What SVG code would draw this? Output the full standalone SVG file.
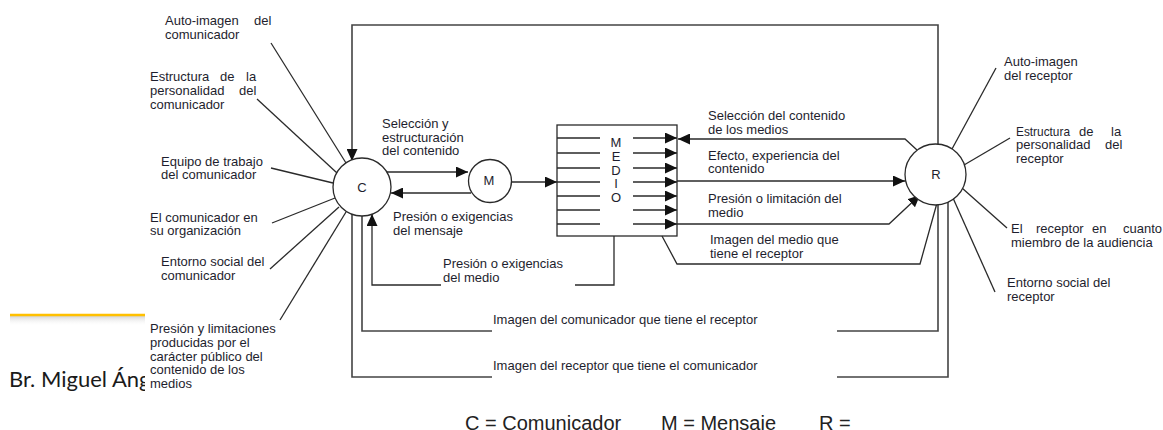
<svg xmlns="http://www.w3.org/2000/svg" width="1163" height="430" viewBox="0 0 1163 430">
  <style>
    .lbl { font-family: "Liberation Sans", Arial, sans-serif; font-size: 13px; fill: #1e1e2e; }
    .node-lbl { font-family: "Liberation Sans", Arial, sans-serif; font-size: 13px; fill: #1e1e2e; text-anchor: middle; }
    .legend { font-family: "Liberation Sans", Arial, sans-serif; font-size: 20px; fill: #222; }
    .ln { fill: none; stroke: #2a2a2a; stroke-width: 1.3; }
    .frame { fill: none; stroke: #444; stroke-width: 1.6; }
    .circ { fill: #fff; stroke: #2a2a2a; stroke-width: 1.3; }
  </style>
  <defs>
    <marker id="ah" markerUnits="userSpaceOnUse" markerWidth="12" markerHeight="11" refX="12" refY="5.5" orient="auto">
      <path d="M0,0 L12,5.5 L0,11 Z" fill="#111"/>
    </marker>
    <clipPath id="leftclip"><rect x="0" y="0" width="145" height="430"/></clipPath>
    <linearGradient id="shadow" x1="0" y1="0" x2="0" y2="1">
      <stop offset="0" stop-color="#d0d0d0" stop-opacity="0.9"/>
      <stop offset="1" stop-color="#ffffff" stop-opacity="0"/>
    </linearGradient>
  </defs>
  <rect width="1163" height="430" fill="#fff"/>

  <!-- slide background elements -->
  <g id="slide" clip-path="url(#leftclip)">
    <rect x="10" y="316" width="140" height="10" fill="url(#shadow)"/>
    <line x1="10" y1="315" x2="150" y2="315" stroke="#FFC000" stroke-width="2.5"/>
    <text x="9" y="387" font-family="Lato, 'Open Sans', sans-serif" font-size="22" fill="#1a1a1a">Br. Miguel Áng</text>
  </g>

  <!-- connectors -->
  <g id="connectors">
    <!-- top feedback frame -->
    <path class="frame" d="M938,145 V25 H352 V161" marker-end="url(#ah)"/>
    <!-- C to M and back -->
    <path class="ln" d="M387,172 H468" marker-end="url(#ah)"/>
    <path class="ln" d="M471,193 H391" marker-end="url(#ah)"/>
    <!-- M to medio -->
    <path class="ln" d="M512,182 H557" marker-end="url(#ah)"/>
    <!-- inner medio lines -->
    <path class="ln" d="M557,138 H600 M557,153 H600 M557,168 H600 M557,182 H600 M557,196 H600 M557,210 H600 M557,224 H600"/>
    <path class="ln" d="M633,138 H677" marker-end="url(#ah)"/>
    <path class="ln" d="M633,153 H677" marker-end="url(#ah)"/>
    <path class="ln" d="M633,168 H677" marker-end="url(#ah)"/>
    <path class="ln" d="M633,182 H677" marker-end="url(#ah)"/>
    <path class="ln" d="M633,196 H677" marker-end="url(#ah)"/>
    <path class="ln" d="M633,210 H677" marker-end="url(#ah)"/>
    <path class="ln" d="M633,224 H677" marker-end="url(#ah)"/>
    <!-- R to medio / medio to R -->
    <path class="ln" d="M917,150 L905,139 H678" marker-end="url(#ah)"/>
    <path class="ln" d="M677,181 H905" marker-end="url(#ah)"/>
    <path class="ln" d="M677,224 H889 L920,195" marker-end="url(#ah)"/>
    <path class="ln" d="M662,236 L677,264 H920 L937,203"/>
    <!-- presion o exigencias del medio -->
    <path class="ln" d="M614,236 V285 H575"/>
    <path class="ln" d="M441,285 H372 V214" marker-end="url(#ah)"/>
    <!-- imagen del comunicador que tiene el receptor -->
    <path class="frame" d="M938,204 V331 H837"/>
    <path class="frame" d="M492,331 H362 V216"/>
    <!-- imagen del receptor que tiene el comunicador -->
    <path class="frame" d="M948,202 V377 H837"/>
    <path class="frame" d="M492,377 H352 V214"/>
    <!-- influences on C -->
    <path class="ln" d="M271,43 L346,163"/>
    <path class="ln" d="M257,99 L337,173"/>
    <path class="ln" d="M271,168 L333,183"/>
    <path class="ln" d="M272,223 L335,198"/>
    <path class="ln" d="M270,269 L339,207"/>
    <path class="ln" d="M280,320 L346,212"/>
    <!-- influences on R -->
    <path class="ln" d="M996,68 L952,149"/>
    <path class="ln" d="M1010,138 L964,165"/>
    <path class="ln" d="M1007,228 L962,188"/>
    <path class="ln" d="M995,292 L953,198"/>
  </g>

  <!-- nodes -->
  <g id="node-C">
    <circle class="circ" cx="362" cy="187" r="29"/>
    <text class="node-lbl" x="362" y="192">C</text>
  </g>
  <g id="node-M">
    <circle class="circ" cx="490" cy="181" r="21.5"/>
    <text class="node-lbl" x="489" y="185">M</text>
  </g>
  <g id="node-R">
    <circle class="circ" cx="935.5" cy="174.5" r="30.5"/>
    <text class="node-lbl" x="936" y="179">R</text>
  </g>
  <g id="node-medio">
    <rect x="557" y="125" width="120" height="111" fill="none" stroke="#2a2a2a" stroke-width="1.3"/>
    <text class="node-lbl" x="616" y="147">M</text>
    <text class="node-lbl" x="616" y="161">E</text>
    <text class="node-lbl" x="616" y="175">D</text>
    <text class="node-lbl" x="616" y="188">I</text>
    <text class="node-lbl" x="616" y="202">O</text>
  </g>

  <!-- left labels -->
  <g id="label-autoimagen-c">
    <text class="lbl" x="165" y="25">Auto-imagen</text>
    <text class="lbl" x="254" y="25">del</text>
    <text class="lbl" x="165" y="39">comunicador</text>
  </g>
  <g id="label-estructura-c">
    <text class="lbl" x="150" y="81">Estructura</text>
    <text class="lbl" x="220" y="81">de</text>
    <text class="lbl" x="246" y="81">la</text>
    <text class="lbl" x="150" y="95">personalidad</text>
    <text class="lbl" x="239" y="95">del</text>
    <text class="lbl" x="150" y="109">comunicador</text>
  </g>
  <g id="label-equipo">
    <text class="lbl" x="161" y="166">Equipo de trabajo</text>
    <text class="lbl" x="161" y="179">del comunicador</text>
  </g>
  <g id="label-organizacion">
    <text class="lbl" x="150" y="222">El comunicador en</text>
    <text class="lbl" x="150" y="235">su organización</text>
  </g>
  <g id="label-entorno-c">
    <text class="lbl" x="161" y="266">Entorno social del</text>
    <text class="lbl" x="161" y="280">comunicador</text>
  </g>
  <g id="label-presion-publico">
    <text class="lbl" x="150" y="333">Presión y limitaciones</text>
    <text class="lbl" x="150" y="347">producidas por el</text>
    <text class="lbl" x="150" y="361">carácter público del</text>
    <text class="lbl" x="150" y="374">contenido de los</text>
    <text class="lbl" x="150" y="388">medios</text>
  </g>

  <!-- middle labels -->
  <g id="label-seleccion-estructuracion">
    <text class="lbl" x="382" y="128">Selección y</text>
    <text class="lbl" x="382" y="142">estructuración</text>
    <text class="lbl" x="382" y="155">del contenido</text>
  </g>
  <g id="label-presion-mensaje">
    <text class="lbl" x="393" y="221">Presión o exigencias</text>
    <text class="lbl" x="393" y="235">del mensaje</text>
  </g>
  <g id="label-presion-medio">
    <text class="lbl" x="443" y="268">Presión o exigencias</text>
    <text class="lbl" x="443" y="282">del medio</text>
  </g>
  <g id="label-seleccion-medios">
    <text class="lbl" x="708" y="120">Selección del contenido</text>
    <text class="lbl" x="708" y="134">de los medios</text>
  </g>
  <g id="label-efecto">
    <text class="lbl" x="708" y="160">Efecto, experiencia del</text>
    <text class="lbl" x="708" y="173">contenido</text>
  </g>
  <g id="label-presion-limitacion">
    <text class="lbl" x="708" y="203">Presión o limitación del</text>
    <text class="lbl" x="708" y="217">medio</text>
  </g>
  <g id="label-imagen-medio">
    <text class="lbl" x="710" y="244">Imagen del medio que</text>
    <text class="lbl" x="710" y="258">tiene el receptor</text>
  </g>
  <g id="label-imagen-comunicador">
    <text class="lbl" x="493" y="324">Imagen del comunicador que tiene el receptor</text>
  </g>
  <g id="label-imagen-receptor">
    <text class="lbl" x="493" y="370">Imagen del receptor que tiene el comunicador</text>
  </g>

  <!-- right labels -->
  <g id="label-autoimagen-r">
    <text class="lbl" x="1004" y="66">Auto-imagen</text>
    <text class="lbl" x="1004" y="80">del receptor</text>
  </g>
  <g id="label-estructura-r">
    <text class="lbl" x="1016" y="136" textLength="54" lengthAdjust="spacingAndGlyphs">Estructura</text>
    <text class="lbl" x="1079" y="136">de</text>
    <text class="lbl" x="1111" y="136">la</text>
    <text class="lbl" x="1016" y="149">personalidad</text>
    <text class="lbl" x="1105" y="149">del</text>
    <text class="lbl" x="1016" y="163">receptor</text>
  </g>
  <g id="label-audiencia">
    <text class="lbl" x="1011" y="233">El</text>
    <text class="lbl" x="1036" y="233">receptor</text>
    <text class="lbl" x="1092" y="233">en</text>
    <text class="lbl" x="1123" y="233">cuanto</text>
    <text class="lbl" x="1011" y="247">miembro de la audiencia</text>
  </g>
  <g id="label-entorno-r">
    <text class="lbl" x="1007" y="287">Entorno social del</text>
    <text class="lbl" x="1007" y="301">receptor</text>
  </g>

  <!-- legend -->
  <g id="legend">
    <text class="legend" x="465" y="430">C = Comunicador</text>
    <text class="legend" x="661" y="430">M = Mensaje</text>
    <text class="legend" x="819" y="430">R =</text>
  </g>
</svg>
